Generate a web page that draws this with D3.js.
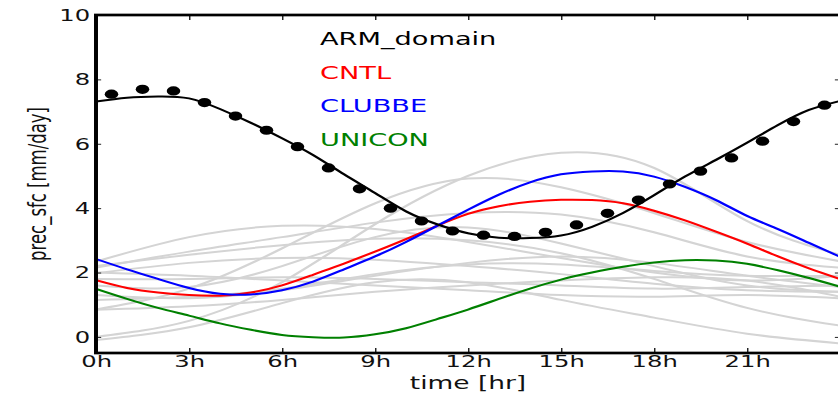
<!DOCTYPE html>
<html>
<head>
<meta charset="utf-8">
<script src="https://cdn.jsdelivr.net/npm/d3@7"></script>
<style>
  html, body { margin: 0; padding: 0; background: #fff; }
  svg { display: block; }
  text { font-family: "DejaVu Sans", sans-serif; }
</style>
</head>
<body>
<svg id="chart"></svg>
<script>
// ---------------- data ----------------
const hours = [0,1,2,3,4,5,6,7,8,9,10,11,12,13,14,15,16,17,18,19,20,21,22,23,24];
const obsHours = [0.5,1.5,2.5,3.5,4.5,5.5,6.5,7.5,8.5,9.5,10.5,11.5,12.5,13.5,14.5,15.5,16.5,17.5,18.5,19.5,20.5,21.5,22.5,23.5];
const armObs = [7.54,7.69,7.64,7.28,6.86,6.42,5.91,5.25,4.60,4.00,3.60,3.29,3.16,3.12,3.25,3.48,3.84,4.25,4.75,5.15,5.56,6.08,6.69,7.20];
const armFit = [7.31,7.43,7.47,7.41,7.08,6.65,6.17,5.65,5.05,4.47,3.90,3.50,3.22,3.08,3.07,3.15,3.42,3.85,4.40,4.98,5.50,6.03,6.58,7.05,7.33];
const cntl   = [1.76,1.52,1.38,1.30,1.28,1.38,1.60,1.93,2.28,2.65,3.04,3.45,3.82,4.06,4.20,4.26,4.25,4.15,3.92,3.62,3.27,2.90,2.50,2.13,1.80];
const clubbe = [2.42,2.10,1.80,1.52,1.34,1.32,1.45,1.72,2.10,2.50,2.95,3.45,3.95,4.42,4.80,5.05,5.14,5.14,4.98,4.66,4.25,3.76,3.35,2.92,2.49];
const unicon = [1.49,1.18,0.90,0.66,0.42,0.22,0.06,-0.01,-0.02,0.08,0.27,0.55,0.85,1.18,1.50,1.78,2.00,2.18,2.31,2.38,2.37,2.27,2.07,1.83,1.56];

// ensemble members (grey), values every 3 hours
const memberHours = [0,3,6,9,12,15,18,21,24];
const members = [
  [0.00,0.50,1.70,3.50,5.00,5.72,5.25,3.60,2.55],
  [0.85,1.50,2.75,4.15,4.92,4.65,3.85,2.95,2.35],
  [2.34,3.10,3.45,3.35,2.95,2.45,2.00,1.75,1.90],
  [2.15,2.65,3.10,3.55,3.85,3.80,3.25,2.50,2.15],
  [1.98,2.30,2.45,2.40,2.20,1.95,1.65,1.45,1.40],
  [1.80,1.80,1.85,1.80,1.70,1.60,1.50,1.55,1.60],
  [1.30,1.20,1.45,1.90,2.30,2.50,2.30,1.90,1.55],
  [1.15,1.25,1.50,1.95,2.25,2.25,2.05,1.90,1.90],
  [0.84,0.95,1.15,1.40,1.60,1.75,1.85,1.75,1.25],
  [-0.10,0.30,1.05,1.70,1.70,1.15,0.60,0.10,-0.20],
  [2.20,2.55,2.85,3.05,3.00,2.60,1.80,0.90,0.35],
  [1.60,1.55,2.20,3.10,3.40,2.90,2.20,1.60,1.40],
  [2.00,1.90,1.75,1.60,1.45,1.30,1.25,1.30,1.20]
];

const yTicks = [0,2,4,6,8,10];
const xTicks = [0,3,6,9,12,15,18,21];
const legendItems = [
  {label: "ARM_domain", color: "#000000"},
  {label: "CNTL",       color: "#ff0000"},
  {label: "CLUBBE",     color: "#0000ff"},
  {label: "UNICON",     color: "#008000"}
];

// ---------------- layout ----------------
const PW = 838, PH = 395;
const sx = 1.47;                 // horizontal stretch of the original figure
const W = PW / sx;

const svg = d3.select("#chart")
  .attr("width", PW).attr("height", PH)
  .attr("viewBox", `0 0 ${W} ${PH}`)
  .attr("preserveAspectRatio", "none");

const x = d3.scaleLinear().domain([0, 24]).range([96 / sx, 840 / sx]);
const y = d3.scaleLinear().domain([-0.5, 10]).range([353, 15]);

svg.append("defs").append("clipPath").attr("id", "plotclip")
  .append("rect")
  .attr("x", x(0)).attr("y", y(10))
  .attr("width", x(24) - x(0)).attr("height", y(-0.5) - y(10));

const plot = svg.append("g").attr("clip-path", "url(#plotclip)");

const lineGen = d3.line().curve(d3.curveNatural);

// grey members
members.forEach(m => {
  plot.append("path")
    .attr("d", lineGen(memberHours.map((h, i) => [x(h), y(m[i])])))
    .attr("fill", "none")
    .attr("stroke", "#d4d4d4")
    .attr("stroke-width", 2);
});

const series = [
  {vals: cntl, color: "#ff0000"},
  {vals: clubbe, color: "#0000ff"},
  {vals: unicon, color: "#008000"},
  {vals: armFit, color: "#000000"}
];
series.forEach(s => {
  plot.append("path")
    .attr("d", lineGen(hours.map((h, i) => [x(h), y(s.vals[i])])))
    .attr("fill", "none")
    .attr("stroke", s.color)
    .attr("stroke-width", 2);
});

plot.selectAll("circle.obs").data(obsHours).enter().append("circle")
  .attr("class", "obs")
  .attr("cx", (d) => x(d))
  .attr("cy", (d, i) => y(armObs[i]))
  .attr("r", 4.6)
  .attr("fill", "#000");

// ---------------- axes ----------------
const axL = svg.append("g").attr("transform", `translate(${x(0)},0)`)
  .call(d3.axisLeft(y).tickValues(yTicks).tickSize(-3.5).tickPadding(4).tickFormat(d3.format("d")));
const axB = svg.append("g").attr("transform", `translate(0,${y(-0.5)})`)
  .call(d3.axisBottom(x).tickValues(xTicks).tickSize(-5).tickPadding(2).tickFormat(d => d + "h"));
const axT = svg.append("g").attr("transform", `translate(0,${y(10)})`)
  .call(d3.axisTop(x).tickValues(xTicks).tickSize(-5).tickFormat(""));
const axR = svg.append("g").attr("transform", `translate(${x(24)},0)`)
  .call(d3.axisRight(y).tickValues(yTicks).tickSize(-3.5).tickFormat(""));

[axL, axB, axT, axR].forEach(a => {
  a.select(".domain").remove();
  a.selectAll(".tick line").attr("stroke", "#222").attr("stroke-width", 1);
  a.selectAll(".tick text").attr("font-family", "DejaVu Sans").attr("font-size", 16.5).attr("fill", "#111");
});

// frame
svg.append("rect")
  .attr("x", x(0)).attr("y", y(10))
  .attr("width", x(24) - x(0)).attr("height", y(-0.5) - y(10))
  .attr("fill", "none").attr("stroke", "#000").attr("stroke-width", 2.7);

// axis titles
svg.append("text")
  .attr("x", 468 / sx).attr("y", 389)
  .attr("text-anchor", "middle").attr("font-size", 18).attr("fill", "#111")
  .text("time [hr]");

svg.append("text")
  .attr("transform", `translate(${46 / sx},184) rotate(-90)`)
  .attr("text-anchor", "middle").attr("font-size", 16.5).attr("fill", "#111")
  .text("prec_sfc [mm/day]");

// legend text
svg.selectAll("text.leg").data(legendItems).enter().append("text")
  .attr("class", "leg")
  .attr("x", 320 / sx)
  .attr("y", (d, i) => 45 + i * 33.7)
  .attr("font-size", 18.5)
  .attr("fill", d => d.color)
  .text(d => d.label);
</script>
</body>
</html>
